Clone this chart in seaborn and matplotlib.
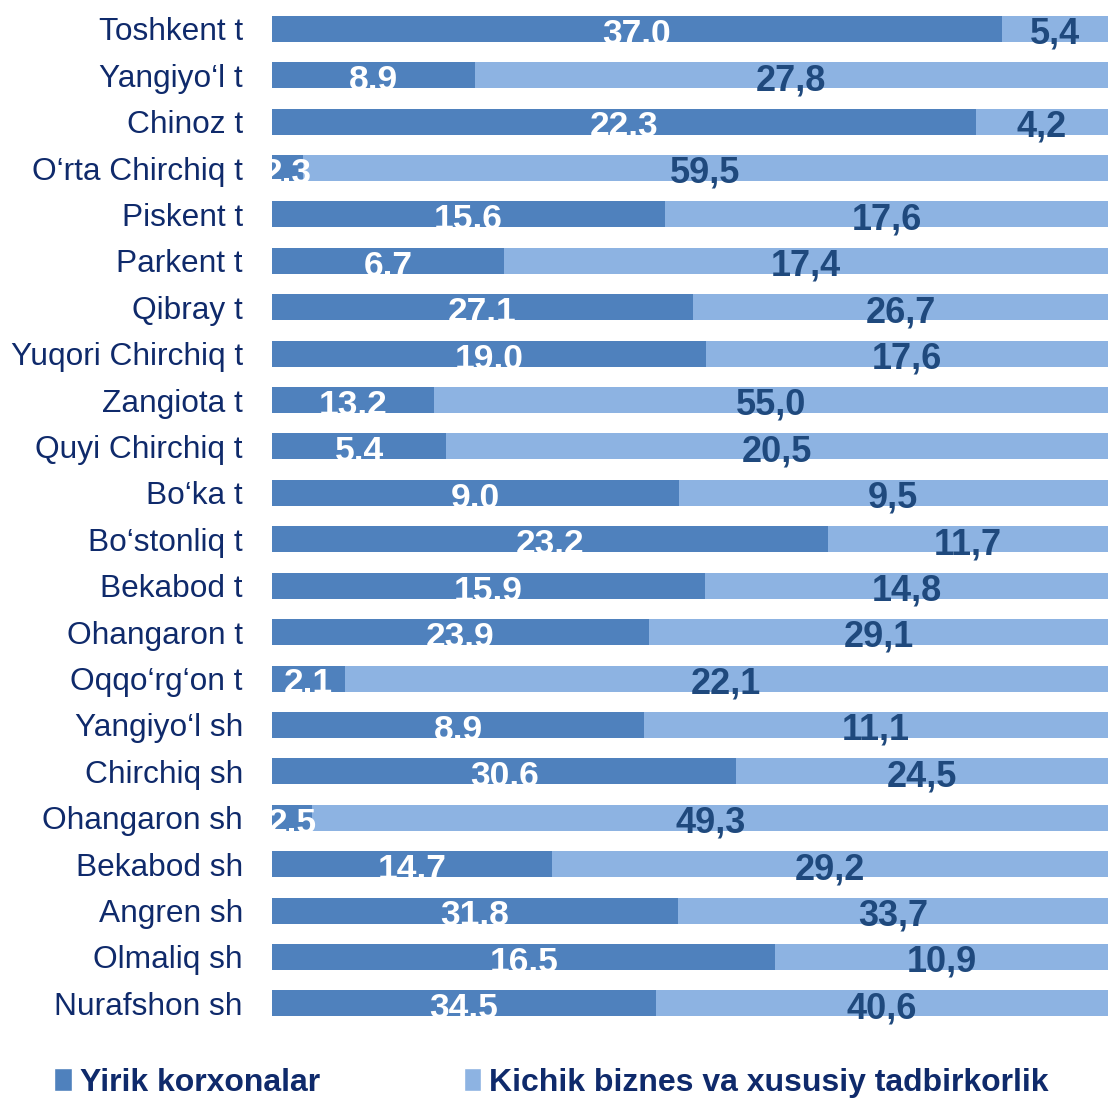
import pandas as pd
import matplotlib.pyplot as plt
import seaborn as sns
from matplotlib.patches import Patch

# Data
districts = ["Toshkent t", "Yangiyo\u2018l t", "Chinoz t", "O\u2018rta Chirchiq t", "Piskent t",
             "Parkent t", "Qibray t", "Yuqori Chirchiq t", "Zangiota t", "Quyi Chirchiq t",
             "Bo\u2018ka t", "Bo\u2018stonliq t", "Bekabod t", "Ohangaron t", "Oqqo\u2018rg\u2018on t",
             "Yangiyo\u2018l sh", "Chirchiq sh", "Ohangaron sh", "Bekabod sh", "Angren sh",
             "Olmaliq sh", "Nurafshon sh"]
large = [37.0, 8.9, 22.3, 2.3, 15.6, 6.7, 27.1, 19.0, 13.2, 5.4, 9.0,
         23.2, 15.9, 23.9, 2.1, 8.9, 30.6, 2.5, 14.7, 31.8, 16.5, 34.5]
small = [5.4, 27.8, 4.2, 59.5, 17.6, 17.4, 26.7, 17.6, 55.0, 20.5, 9.5,
         11.7, 14.8, 29.1, 22.1, 11.1, 24.5, 49.3, 29.2, 33.7, 10.9, 40.6]
series_names = ["Yirik korxonalar", "Kichik biznes va xususiy tadbirkorlik"]

df = pd.DataFrame({"district": districts, "large": large, "small": small})
df["share"] = df["large"] / (df["large"] + df["small"])
df["total"] = 1.0

dark = "#4F81BD"
light = "#8DB3E2"
navy = "#0F2A6B"
label_blue = "#1F497D"

sns.set_style("white")
plt.rcParams['font.family'] = ['Liberation Sans', 'DejaVu Sans']

fig = plt.figure(figsize=(11.08, 11.01), dpi=100)
ax = fig.add_axes([272 / 1108, 1 - 1026.6 / 1101, 1 - 272 / 1108, 1021 / 1101])

sns.barplot(data=df, y="district", x="total", color=light, width=0.56,
            saturation=1, ax=ax, orient="h", linewidth=0)
sns.barplot(data=df, y="district", x="share", color=dark, width=0.56,
            saturation=1, ax=ax, orient="h", linewidth=0)

for i, row in df.iterrows():
    ax.text(row["share"] / 2, i + 0.32, f"{row['large']:.1f}", color="white",
            fontsize=25.5, fontweight="bold", ha="center", va="baseline", clip_on=True)
    ax.text(row["share"] + (1 - row["share"]) / 2, i + 0.32,
            f"{row['small']:.1f}".replace(".", ","), color=label_blue,
            fontsize=26, fontweight="bold", ha="center", va="baseline", clip_on=True)

ax.set_xlim(0, 1)
ax.set_ylim(21.5, -0.5)
ax.set_xlabel("")
ax.set_ylabel("")
ax.set_xticks([])
ax.tick_params(axis="y", length=0, pad=21, labelsize=22.8, labelcolor=navy)
sns.despine(ax=ax, left=True, bottom=True)

handles = [Patch(facecolor=dark, label=series_names[0]),
           Patch(facecolor=light, label=series_names[1])]
leg = fig.legend(handles=handles, loc="lower left", bbox_to_anchor=(0.023, -0.023),
                 ncol=2, frameon=False, handlelength=0.55, handleheight=0.75,
                 handletextpad=0.25, columnspacing=4.5,
                 prop={"size": 23, "weight": "bold"})
for t in leg.get_texts():
    t.set_color(navy)

fig.savefig("out.png", dpi=100)
